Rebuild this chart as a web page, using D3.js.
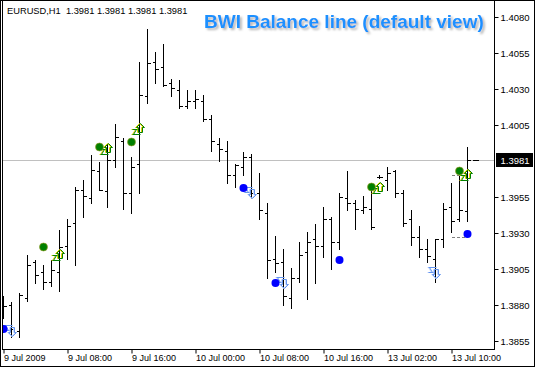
<!DOCTYPE html>
<html>
<head>
<meta charset="utf-8">
<script src="https://cdn.jsdelivr.net/npm/d3@7"></script>
<style>
body { margin: 0; background: #fff; }
svg { display: block; }
text { font-family: Tahoma, "Liberation Sans", Arial, sans-serif; }
</style>
</head>
<body>
<div id="chart"></div>
<script>
var width = 535, height = 367;

var symbol = "EURUSD,H1";
var lastPrice = 1.3981;
var title = "BWI Balance line (default view)";

// OHLC, one value per hourly bar
var opens  = [1.3883, 1.3880, 1.3862, 1.3885, 1.3910, 1.3903, 1.3896, 1.3903, 1.3921, 1.3937,
              1.3960, 1.3954, 1.3973, 1.3959, 1.3981, 1.3994, 1.3958, 1.3978, 1.4025, 1.4049,
              1.4045, 1.4034, 1.4029, 1.4018, 1.4022, 1.4022, 1.4009, 1.3992, 1.3987, 1.3970,
              1.3976, 1.3983, 1.3958, 1.3944, 1.3912, 1.3910, 1.3885, 1.3899, 1.3917, 1.3926,
              1.3921, 1.3940, 1.3924, 1.3954, 1.3951, 1.3946, 1.3947, 1.3969, 1.3967, 1.3973,
              1.3958, 1.3940, 1.3927, 1.3919, 1.3912, 1.3926, 1.3948, 1.3940, 1.3945, 1.3981];
var highs  = [1.3886, 1.3882, 1.3888, 1.3915, 1.3911, 1.3908, 1.3911, 1.3932, 1.3940, 1.3962,
              1.3967, 1.3984, 1.3979, 1.3992, 1.4006, 1.3996, 1.3983, 1.4049, 1.4072, 1.4056,
              1.4061, 1.4037, 1.4036, 1.4029, 1.4029, 1.4026, 1.4012, 1.3996, 1.3994, 1.3978,
              1.3986, 1.3985, 1.3972, 1.3951, 1.3928, 1.3919, 1.3906, 1.3924, 1.3931, 1.3936,
              1.3948, 1.3941, 1.3958, 1.3973, 1.3953, 1.3956, 1.3960, 1.3970, 1.3976, 1.3974,
              1.3960, 1.3946, 1.3935, 1.3926, 1.3926, 1.3951, 1.3965, 1.3970, 1.3990, 1.3981];
var lows   = [1.3871, 1.3858, 1.3858, 1.3883, 1.3895, 1.3891, 1.3893, 1.3890, 1.3912, 1.3908,
              1.3941, 1.3951, 1.3960, 1.3948, 1.3976, 1.3947, 1.3944, 1.3958, 1.4020, 1.4034,
              1.4032, 1.4025, 1.4017, 1.4017, 1.4017, 1.4008, 1.3987, 1.3980, 1.3965, 1.3962,
              1.3970, 1.3954, 1.3940, 1.3899, 1.3903, 1.3880, 1.3878, 1.3896, 1.3884, 1.3895,
              1.3913, 1.3905, 1.3919, 1.3946, 1.3933, 1.3944, 1.3933, 1.3968, 1.3960, 1.3955,
              1.3935, 1.3922, 1.3913, 1.3910, 1.3896, 1.3920, 1.3931, 1.3938, 1.3938, 1.3981];
var closes = [1.3879, 1.3863, 1.3887, 1.3908, 1.3901, 1.3896, 1.3904, 1.3920, 1.3935, 1.3960,
              1.3956, 1.3974, 1.3960, 1.3981, 1.3997, 1.3958, 1.3976, 1.4026, 1.4048, 1.4044,
              1.4033, 1.4031, 1.4018, 1.4022, 1.4023, 1.4009, 1.3994, 1.3988, 1.3970, 1.3977,
              1.3983, 1.3958, 1.3946, 1.3911, 1.3909, 1.3886, 1.3899, 1.3915, 1.3924, 1.3921,
              1.3940, 1.3924, 1.3955, 1.3951, 1.3947, 1.3948, 1.3934, 1.3969, 1.3972, 1.3958,
              1.3937, 1.3927, 1.3919, 1.3914, 1.3926, 1.3947, 1.3938, 1.3946, 1.3981, 1.3981];

var timeTickBars   = [0, 8, 16, 24, 32, 40, 48, 56];
var timeTickLabels = ["9 Jul 2009", "9 Jul 08:00", "9 Jul 16:00", "10 Jul 00:00",
                      "10 Jul 08:00", "10 Jul 16:00", "13 Jul 02:00", "13 Jul 10:00"];
var priceTicks = [1.4080, 1.4055, 1.4030, 1.4005, 1.3955, 1.3930, 1.3905, 1.3880, 1.3855];

// balance line signals
var greenDotBars   = [5, 12, 16, 46, 57];
var greenDotPrices = [1.3920, 1.3990, 1.3993, 1.3962, 1.3973];
var blueDotBars    = [0, 30, 34, 42, 58];
var blueDotPrices  = [1.3863, 1.3961, 1.3895, 1.3911, 1.3929];
var upArrowBars    = [7, 13, 17, 47, 58];
var upArrowPrices  = [1.3915, 1.3988, 1.4002, 1.3961, 1.3970];
var downArrowBars  = [1, 31, 35, 54];
var downArrowPrices = [1.3862, 1.3958, 1.3895, 1.3902];
var levelPrices    = [1.3970, 1.3927];
var levelFrom = 56, levelTo = 58;

var svg = d3.select("#chart").append("svg")
  .attr("width", width).attr("height", height);

var defs = svg.append("defs");
defs.append("clipPath").attr("id", "plot")
  .append("rect").attr("x", 3).attr("y", 2).attr("width", 491).attr("height", 347);
var sh = defs.append("filter").attr("id", "shadow")
  .attr("x", "-5%").attr("y", "-20%").attr("width", "115%").attr("height", "160%");
sh.append("feDropShadow").attr("dx", 2).attr("dy", 2).attr("stdDeviation", 1.2)
  .attr("flood-color", "#999").attr("flood-opacity", 0.7);

var x = d3.scaleLinear().domain([0, 59]).range([3, 475]);
var y = d3.scaleLinear().domain([1.3855, 1.4080]).range([341, 17]);

function px(i) { return Math.round(x(i)); }
function py(p) { return Math.round(y(p)); }

var plot = svg.append("g").attr("clip-path", "url(#plot)");

// current price line
plot.append("line")
  .attr("x1", 3).attr("x2", 494)
  .attr("y1", py(lastPrice) + 0.5).attr("y2", py(lastPrice) + 0.5)
  .attr("stroke", "#c0c0c0").attr("shape-rendering", "crispEdges");

// bars
var bars = d3.range(opens.length);
plot.append("g").selectAll("path").data(bars).enter().append("path")
  .attr("fill", "none").attr("stroke", "#000").attr("stroke-width", 1)
  .attr("shape-rendering", "crispEdges")
  .attr("d", function(i) {
    var cx = px(i) + 0.5;
    var o = py(opens[i]) + 0.5, c = py(closes[i]) + 0.5;
    return "M" + cx + "," + py(highs[i]) + "V" + (py(lows[i]) + 1) +
           "M" + (cx - 3) + "," + o + "H" + cx +
           "M" + cx + "," + c + "H" + (cx + 3);
  });

// level dashes
plot.append("g").selectAll("line").data(levelPrices).enter().append("line")
  .attr("x1", px(levelFrom) + 1).attr("x2", px(levelTo))
  .attr("y1", function(d) { return py(d) + 0.5; })
  .attr("y2", function(d) { return py(d) + 0.5; })
  .attr("stroke", "#808080").attr("stroke-dasharray", "3,2")
  .attr("shape-rendering", "crispEdges");

// arrows: hollow arrow plus a small zig under it
var upShape = "M9.5,0.5 L13.5,4.5 L11.5,4.5 L11.5,9.5 L7.5,9.5 L7.5,4.5 L5.5,4.5 Z";
var upZig = "M1.5,6.5 H6.5 M1.5,11.5 H9.5 M5.5,6.5 L2.5,11.5";
var downShape = "M9.5,11.5 L13.5,7.5 L11.5,7.5 L11.5,2.5 L7.5,2.5 L7.5,7.5 L5.5,7.5 Z";
var downZig = "M1.5,0.5 H9.5 M1.5,5.5 H6.5 M2.5,0.5 L5.5,5.5";

var ua = plot.append("g").selectAll("g").data(upArrowBars).enter().append("g")
  .attr("transform", function(d, k) { return "translate(" + (px(d) - 8) + "," + (py(upArrowPrices[k]) - 6) + ")"; });
ua.append("path").attr("d", upShape + upZig).attr("fill", "none").attr("stroke", "#e8d000")
  .attr("transform", "translate(-1,0)");
ua.append("path").attr("d", upShape + upZig).attr("fill", "none").attr("stroke", "#008000");

var da = plot.append("g").selectAll("g").data(downArrowBars).enter().append("g")
  .attr("transform", function(d, k) { return "translate(" + (px(d) - 8) + "," + (py(downArrowPrices[k]) - 6) + ")"; });
da.append("path").attr("d", downShape + downZig).attr("fill", "none").attr("stroke", "#c8d8ff")
  .attr("transform", "translate(-1,0)");
da.append("path").attr("d", downShape + downZig).attr("fill", "none").attr("stroke", "#6495ed");

// dots
plot.append("g").selectAll("circle").data(greenDotBars).enter().append("circle")
  .attr("cx", function(d) { return px(d) + 0.5; })
  .attr("cy", function(d, k) { return py(greenDotPrices[k]); })
  .attr("r", 4).attr("fill", "#008000").attr("stroke", "#9a9a20").attr("stroke-width", 0.6);
plot.append("g").selectAll("circle").data(blueDotBars).enter().append("circle")
  .attr("cx", function(d) { return px(d) + 0.5; })
  .attr("cy", function(d, k) { return py(blueDotPrices[k]); })
  .attr("r", 4).attr("fill", "#0000ff");

// frame
svg.append("rect").attr("x", 0.5).attr("y", 0.5).attr("width", 534).attr("height", 366)
  .attr("fill", "none").attr("stroke", "#000").attr("shape-rendering", "crispEdges");
svg.append("path").attr("d", "M2.5,1V349.5H494.5V1")
  .attr("fill", "none").attr("stroke", "#000").attr("shape-rendering", "crispEdges");

// price axis
var yAxis = svg.append("g").attr("transform", "translate(494.5,0)")
  .call(d3.axisRight(y).tickValues(priceTicks).tickSize(4).tickFormat(d3.format(".4f")));
yAxis.select(".domain").remove();
yAxis.selectAll("text").attr("x", 6).attr("dy", "0.34em")
  .style("font-size", "9.5px").attr("fill", "#000");

// current price label
svg.append("rect").attr("x", 496).attr("y", py(lastPrice) - 7)
  .attr("width", 37).attr("height", 14).attr("fill", "#000");
svg.append("text").attr("x", 500.5).attr("y", py(lastPrice) + 4)
  .attr("fill", "#fff").style("font-size", "9.5px").text(d3.format(".4f")(lastPrice));

// time axis
var xAxis = svg.append("g").attr("transform", "translate(0.5,349.5)")
  .call(d3.axisBottom(x).tickValues(timeTickBars).tickSize(4)
    .tickFormat(function(d, k) { return timeTickLabels[k]; }));
xAxis.select(".domain").remove();
xAxis.selectAll("text").attr("text-anchor", "start").attr("x", 0).attr("y", 11).attr("dy", null)
  .style("font-size", "9px").attr("fill", "#000");

// header
svg.append("text").attr("x", 7).attr("y", 14).style("font-size", "9.3px").attr("fill", "#000")
  .attr("xml:space", "preserve")
  .text(symbol + "  " + [opens[59], highs[59], lows[59], closes[59]].map(d3.format(".4f")).join(" "));

svg.append("text").attr("x", 204).attr("y", 28)
  .attr("filter", "url(#shadow)")
  .style("font-family", "Arial, 'Liberation Sans', sans-serif")
  .style("font-size", "19px").style("font-weight", "bold").attr("fill", "#1e90ff")
  .text(title);
</script>
</body>
</html>
